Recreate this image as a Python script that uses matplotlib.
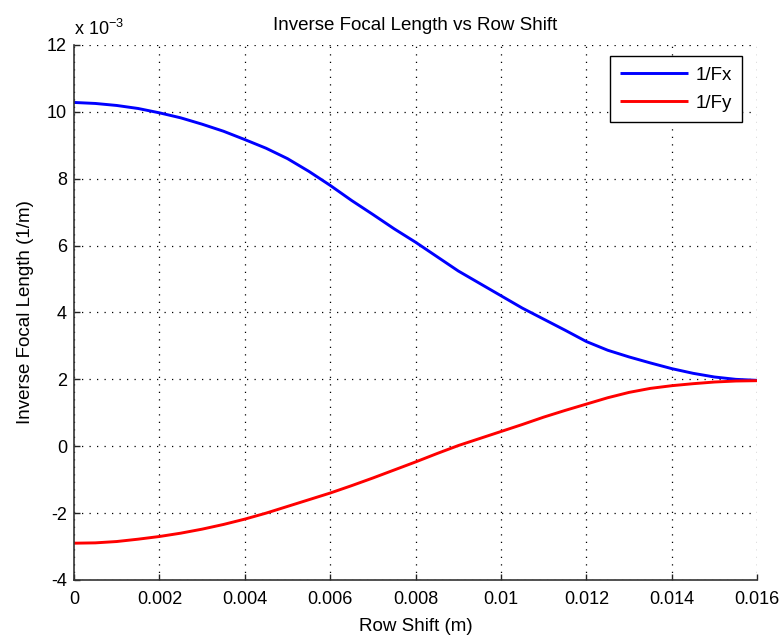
import numpy as np
import matplotlib
matplotlib.use('Agg')
import matplotlib.pyplot as plt


# inverse focal length (in units of 1e-3 1/m) vs row shift (m)
ROW_SHIFT = [0.0, 0.0005, 0.001, 0.0015, 0.002, 0.0025, 0.003, 0.0035, 0.004,
             0.0045, 0.005, 0.0055, 0.006, 0.0065, 0.007, 0.0075, 0.008,
             0.0085, 0.009, 0.0095, 0.010, 0.0105, 0.011, 0.0115, 0.012,
             0.0125, 0.013, 0.0135, 0.014, 0.0145, 0.015, 0.0155, 0.016]
INV_FX = [10.28, 10.25, 10.19, 10.10, 9.97, 9.82, 9.63, 9.42, 9.17,
          8.91, 8.60, 8.22, 7.80, 7.35, 6.93, 6.50, 6.10,
          5.67, 5.24, 4.87, 4.50, 4.13, 3.80, 3.47, 3.13,
          2.87, 2.67, 2.49, 2.32, 2.18, 2.07, 2.00, 1.97]
INV_FY = [-2.90, -2.89, -2.85, -2.78, -2.70, -2.60, -2.48, -2.34, -2.18,
          -2.00, -1.80, -1.60, -1.40, -1.18, -0.95, -0.71, -0.47,
          -0.22, 0.02, 0.23, 0.44, 0.65, 0.87, 1.07, 1.26,
          1.45, 1.61, 1.73, 1.81, 1.87, 1.92, 1.95, 1.96]
LABELS = ['1/Fx', '1/Fy']

XTICKS = [0, 0.002, 0.004, 0.006, 0.008, 0.01, 0.012, 0.014, 0.016]
XTICKLABELS = ['0', '0.002', '0.004', '0.006', '0.008', '0.01', '0.012', '0.014', '0.016']
YTICKS = [-4, -2, 0, 2, 4, 6, 8, 10, 12]

plt.rcParams['font.family'] = ['Liberation Sans', 'DejaVu Sans']
plt.rcParams['mathtext.fontset'] = 'custom'
plt.rcParams['mathtext.rm'] = 'Liberation Sans'
plt.rcParams['mathtext.it'] = 'Liberation Sans'
plt.rcParams['axes.unicode_minus'] = False

fig = plt.figure(figsize=(7.79, 6.42), dpi=100)
ax = fig.add_axes([0.095, 0.0966, 0.877, 0.8334])

ax.plot(ROW_SHIFT, INV_FX, color='#0000ff', lw=2.1, label=LABELS[0], solid_capstyle='butt')
ax.plot(ROW_SHIFT, INV_FY, color='#ff0000', lw=2.1, label=LABELS[1], solid_capstyle='butt')

ax.set_xlim(0, 0.016)
ax.set_ylim(-4, 12)
ax.set_xticks(XTICKS)
ax.set_xticklabels(XTICKLABELS)
ax.set_yticks(YTICKS)

ax.grid(True, color='black', linestyle=(0, (1, 5)), linewidth=0.9)
for side in ['top', 'right']:
    ax.spines[side].set_visible(False)
for side in ['left', 'bottom']:
    ax.spines[side].set_color('#333333')
    ax.spines[side].set_linewidth(1.2)
ax.tick_params(direction='in', length=4, width=1, colors='#222222', labelsize=13,
               labelcolor='black')
ax.tick_params(axis='x', pad=8)
ax.tick_params(axis='y', pad=5)

ax.set_xlabel('Row Shift (m)', fontsize=13.5, labelpad=7)
ax.set_ylabel('Inverse Focal Length (1/m)', fontsize=13.5, labelpad=9)
ax.set_title('Inverse Focal Length vs Row Shift', fontsize=13.5, pad=11)
ax.text(0.0, 1.012, r'x 10$^{-3}$', transform=ax.transAxes, fontsize=13,
        ha='left', va='bottom')

leg = ax.legend(loc='upper right', bbox_to_anchor=(0.983, 0.986), fontsize=13.5,
                frameon=True, fancybox=False, handlelength=3.6, borderpad=0.55,
                labelspacing=0.6, handletextpad=0.4, borderaxespad=0.2)
leg.get_frame().set_edgecolor('black')
leg.get_frame().set_linewidth(1.0)
leg.get_frame().set_alpha(1.0)

fig.savefig('out.png', dpi=100, facecolor='white')
